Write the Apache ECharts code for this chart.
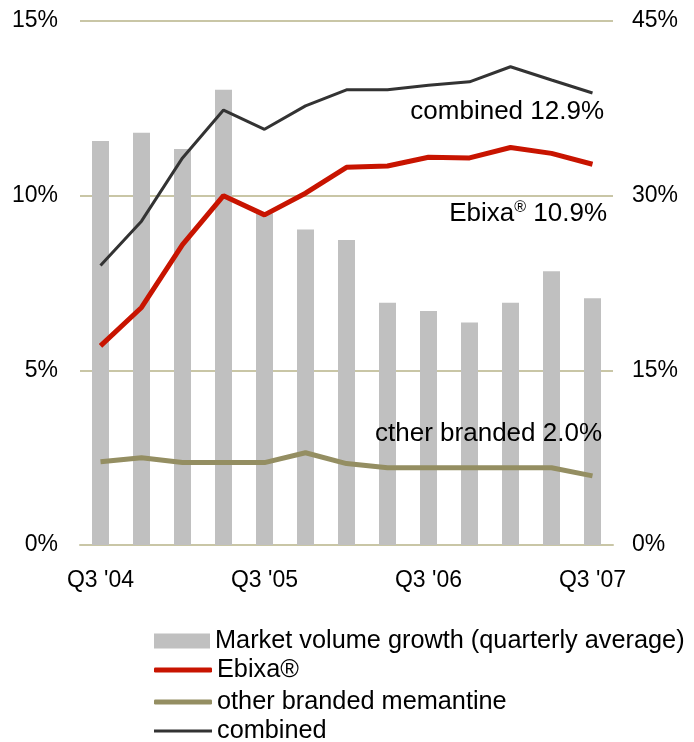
<!DOCTYPE html>
<html><head><meta charset="utf-8">
<script src="https://cdn.jsdelivr.net/npm/echarts@6/dist/echarts.min.js"></script>
<style>html,body{margin:0;padding:0;background:#fff}#c{width:694px;height:742px}</style>
</head><body><div id="c"></div>
<script>
const categories = ["Q3 '04","Q4 '04","Q1 '05","Q2 '05","Q3 '05","Q4 '05","Q1 '06","Q2 '06","Q3 '06","Q4 '06","Q1 '07","Q2 '07","Q3 '07"];
const marketGrowth = [34.7,35.4,34.0,39.1,28.5,27.1,26.2,20.8,20.1,19.1,20.8,23.5,21.2];
const ebixa = [5.7,6.8,8.6,10.0,9.45,10.07,10.81,10.85,11.1,11.08,11.38,11.21,10.9];
const otherBranded = [2.38,2.5,2.36,2.36,2.36,2.64,2.33,2.21,2.21,2.21,2.21,2.21,1.98];
const combined = [8.0,9.27,11.08,12.45,11.9,12.57,13.03,13.03,13.16,13.26,13.69,13.31,12.94];
const leftTicks = {min:0,max:15,interval:5};
const rightTicks = {min:0,max:45,interval:15};
const seriesNames = ['Market volume growth (quarterly average)','Ebixa®','other branded memantine','combined'];
const endLabels = ['combined 12.9%','10.9%','cther branded 2.0%'];

const FONT = 'Liberation Sans, Arial, sans-serif';
const chart = echarts.init(document.getElementById('c'));
const gridColor = '#c9c6a6';
const RED = '#c81400', OLIVE = '#948e62', DARK = '#333333', GRAY = '#c0c0c0';
function legendRow(name, centerY, icon, w, h){
  return {
    orient:'vertical', left:154, top:centerY-13, padding:0, itemWidth:w, itemHeight:h, itemGap:0,
    icon:icon, selectedMode:false,
    textStyle:{fontFamily:FONT,fontSize:25.3,lineHeight:26,color:'#000',padding:[0,0,0,0]},
    data:[{name:name}]
  };
}
chart.setOption({
  animation:false,
  textStyle:{fontFamily:FONT},
  grid:{left:80,right:81,top:21,bottom:197},
  legend:[
    legendRow(seriesNames[0],641,'rect',56,15),
    legendRow(seriesNames[1],670,'roundRect',58,5),
    legendRow(seriesNames[2],702,'roundRect',58,5),
    legendRow(seriesNames[3],731,'rect',58,3)
  ],
  xAxis:{
    type:'category',data:categories,boundaryGap:true,
    axisLine:{show:true,lineStyle:{color:gridColor,width:2}},
    axisTick:{show:false},
    axisLabel:{interval:3,color:'#000',fontSize:23,fontFamily:FONT,margin:24}
  },
  yAxis:[
    {type:'value',min:leftTicks.min,max:leftTicks.max,interval:leftTicks.interval,position:'left',
     axisLine:{show:false},axisTick:{show:false},
     splitLine:{show:true,lineStyle:{color:gridColor,width:2}},
     axisLabel:{formatter:'{value}%',color:'#000',fontSize:23,fontFamily:FONT,margin:22}},
    {type:'value',min:rightTicks.min,max:rightTicks.max,interval:rightTicks.interval,position:'right',
     axisLine:{show:false},axisTick:{show:false},splitLine:{show:false},
     axisLabel:{formatter:'{value}%',color:'#000',fontSize:23,fontFamily:FONT,margin:19}}
  ],
  series:[
    {name:seriesNames[0],type:'bar',yAxisIndex:1,data:marketGrowth,
     barWidth:17,itemStyle:{color:GRAY},z:1},
    {name:seriesNames[2],type:'line',yAxisIndex:0,data:otherBranded,symbol:'none',
     lineStyle:{color:OLIVE,width:5},itemStyle:{color:OLIVE},z:3},
    {name:seriesNames[1],type:'line',yAxisIndex:0,data:ebixa,symbol:'none',
     lineStyle:{color:RED,width:5},itemStyle:{color:RED},z:4},
    {name:seriesNames[3],type:'line',yAxisIndex:0,data:combined,symbol:'none',
     lineStyle:{color:DARK,width:3},itemStyle:{color:DARK},z:5}
  ],
  graphic:[
    {type:'text',z:100,x:604,y:112,style:{text:endLabels[0],font:'26px '+FONT,fill:'#000',align:'right',verticalAlign:'middle'}},
    {type:'text',z:100,x:607,y:214,style:{align:'right',verticalAlign:'middle',
      rich:{a:{fontSize:26,fontFamily:FONT,fill:'#000'},s:{fontSize:16,fontFamily:FONT,fill:'#000',padding:[0,0,12,0]}},
      text:'{a|Ebixa}{s|®}{a| '+endLabels[1]+'}'}},
    {type:'text',z:100,x:602,y:434,style:{text:endLabels[2],font:'26px '+FONT,fill:'#000',align:'right',verticalAlign:'middle'}}
  ]
});
</script></body></html>
